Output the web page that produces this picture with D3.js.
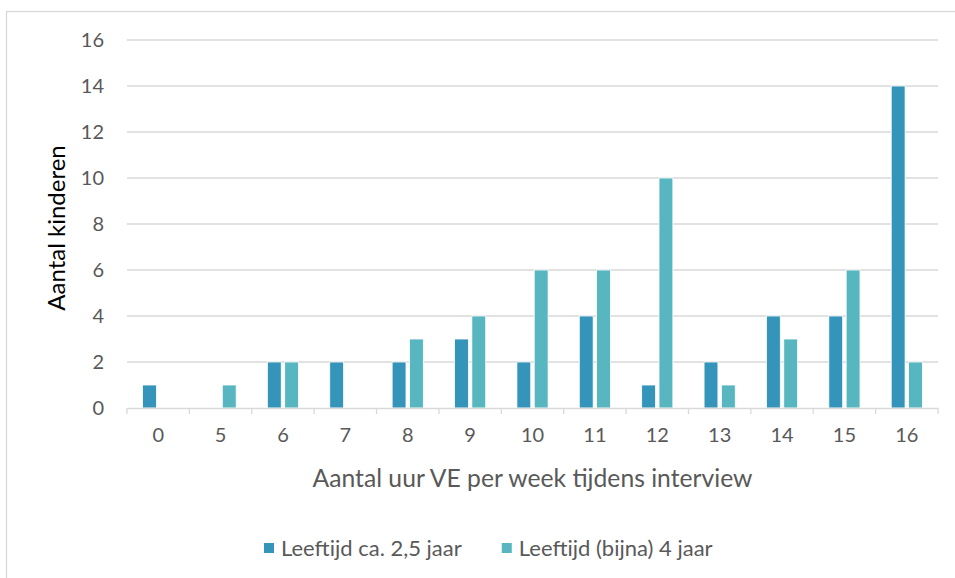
<!DOCTYPE html>
<html>
<head>
<meta charset="utf-8">
<script src="https://cdn.jsdelivr.net/npm/d3@7"></script>
<style>
  body { margin: 0; background: #fff; }
  svg { font-family: Lato, "Open Sans", sans-serif; }
</style>
</head>
<body>
<div id="root"></div>
<script>
// chart values
const categories = ["0", "5", "6", "7", "8", "9", "10", "11", "12", "13", "14", "15", "16"];
const seriesNames = ["Leeftijd ca. 2,5 jaar", "Leeftijd (bijna) 4 jaar"];
const youngValues = [1, 0, 2, 2, 2, 3, 2, 4, 1, 2, 4, 4, 14];
const olderValues = [0, 1, 2, 0, 3, 4, 6, 6, 10, 1, 3, 6, 2];
const yTicks = [0, 2, 4, 6, 8, 10, 12, 14, 16];

const colors = ["#3494BA", "#58B6C0"];

const w = 955, h = 578;
const margin = { top: 40, right: 17, bottom: 170, left: 127 };
const width = w - margin.left - margin.right;
const height = 408 - margin.top;

const rows = categories.map((c, i) => ({ cat: c, vals: [youngValues[i], olderValues[i]] }));

const svg = d3.select("#root").append("svg")
  .attr("width", w)
  .attr("height", h);

// outer frame
svg.append("rect")
  .attr("x", 6.5).attr("y", 11.5)
  .attr("width", w + 10).attr("height", h + 10)
  .attr("fill", "none")
  .attr("stroke", "#d9d9d9")
  .attr("stroke-width", 1.3);

const g = svg.append("g")
  .attr("transform", "translate(" + margin.left + "," + margin.top + ")");

const x = d3.scaleBand().domain(categories).range([0, width]);
const x1 = d3.scaleBand().domain([0, 1])
  .range([x.bandwidth() * 0.25, x.bandwidth() * 0.75])
  .paddingInner(0.2);
const y = d3.scaleLinear().domain([0, 16]).range([height, 0]);

// gridlines
g.append("g")
  .selectAll("line")
  .data(yTicks.filter(d => d > 0))
  .enter().append("line")
  .attr("x1", 0).attr("x2", width)
  .attr("y1", d => y(d)).attr("y2", d => y(d))
  .attr("stroke", "#d9d9d9")
  .attr("stroke-width", 1.3);

// y axis labels
const yAxis = g.append("g")
  .call(d3.axisLeft(y).tickValues(yTicks).tickSize(0).tickPadding(23));
yAxis.select(".domain").remove();
yAxis.selectAll("text")
  .attr("fill", "#595959")
  .style("font-size", "20px")
  .style("font-family", "Lato, sans-serif");

// bars
g.append("g")
  .selectAll("g")
  .data(rows)
  .enter().append("g")
  .attr("transform", d => "translate(" + x(d.cat) + ",0)")
  .selectAll("rect")
  .data(d => d.vals.map((v, k) => ({ v: v, k: k })).filter(e => e.v > 0))
  .enter().append("rect")
  .attr("x", d => x1(d.k))
  .attr("width", x1.bandwidth())
  .attr("y", d => y(d.v))
  .attr("height", d => y(0) - y(d.v))
  .attr("fill", d => colors[d.k])
  .attr("stroke", "#fff")
  .attr("stroke-width", 0.8);

// x axis
const xAxis = g.append("g")
  .attr("transform", "translate(0," + height + ")")
  .call(d3.axisBottom(x).tickSize(0).tickPadding(20));
xAxis.select(".domain").attr("stroke", "#d9d9d9").attr("stroke-width", 1.3);
xAxis.selectAll("text")
  .attr("fill", "#595959")
  .style("font-size", "20px")
  .style("font-family", "Lato, sans-serif");

// category boundary ticks
xAxis.append("g")
  .selectAll("line")
  .data(categories.map(c => x(c)).concat([width]))
  .enter().append("line")
  .attr("x1", d => d).attr("x2", d => d)
  .attr("y1", 0).attr("y2", 6)
  .attr("stroke", "#d9d9d9")
  .attr("stroke-width", 1.3);

// axis titles
svg.append("text")
  .attr("x", margin.left + width / 2)
  .attr("y", 487)
  .attr("text-anchor", "middle")
  .attr("fill", "#595959")
  .style("font-size", "24.7px")
  .text("Aantal uur VE per week tijdens interview");

svg.append("text")
  .attr("transform", "translate(65," + (margin.top + height / 2 + 4) + ") rotate(-90)")
  .attr("text-anchor", "middle")
  .attr("fill", "#000")
  .style("font-size", "24px")
  .text("Aantal kinderen");

// legend
const legend = svg.append("g");
const items = legend.selectAll("g")
  .data(seriesNames)
  .enter().append("g");
items.append("rect")
  .attr("width", 10).attr("height", 10)
  .attr("y", -5)
  .attr("fill", (d, i) => colors[i]);
items.append("text")
  .attr("x", 17)
  .attr("dy", "0.35em")
  .attr("fill", "#595959")
  .style("font-size", "22px")
  .text(d => d);

let offset = 0;
items.each(function() {
  const node = d3.select(this);
  node.attr("transform", "translate(" + offset + ",548)");
  offset += this.getBBox().width + 40;
});
legend.attr("transform", "translate(264,0)");
</script>
</body>
</html>
